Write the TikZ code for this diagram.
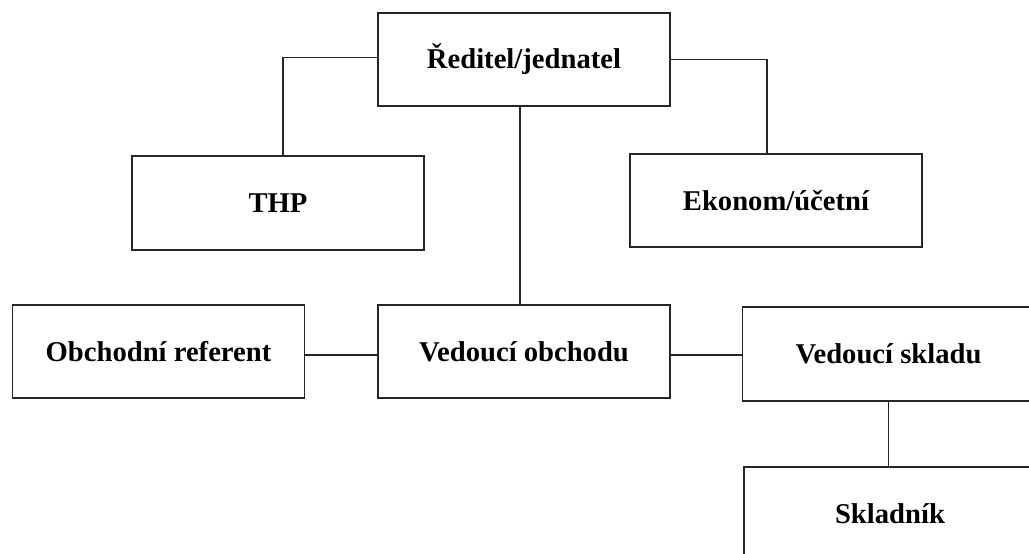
\documentclass[tikz,border=0pt]{standalone}
\usepackage{fontspec}
\setmainfont{Liberation Serif}
\begin{document}
\begin{tikzpicture}[x=0.02cm, y=-0.02cm,
    orgbox/.style={draw=black!85, line width=1.1pt, fill=white, inner sep=0pt,
      minimum width=5.84cm, minimum height=1.87cm,
      font=\fontsize{16.3}{19}\selectfont\bfseries},
    link/.style={draw=black!85, line width=1.1pt}]
          \useasboundingbox (0,0) rectangle (1029,554);
          \clip (0,0) rectangle (1029,554);
          \node[orgbox] (reditel) at (524,59.5){Ředitel/jednatel};
          \node[orgbox] (thp) at (278,203){THP};
          \node[orgbox] (ekonom) at (776,200.5){Ekonom/účetní};
          \draw[link]([yshift=0.04cm]reditel.west) -| ([xshift=0.1cm]thp.north);
          \draw[link](reditel.east) -| ([xshift=-0.18cm]ekonom.north);
          \node[orgbox] (obchref) at (158.5,351.5){Obchodní referent};
          \node[orgbox] (vedobch) at (524,351.5){Vedoucí obchodu};
          \draw[link]([xshift=-0.08cm]reditel.south) -- ([xshift=-0.08cm]vedobch.north);
          \draw[link]([yshift=-0.07cm]obchref.east) -- ([yshift=-0.07cm]vedobch.west);
          \node[orgbox] (vedskl) at (888.5,354){Vedoucí skladu};
          \node[orgbox] (skladnik) at (890,514){Skladník};
          \draw[link]([yshift=-0.07cm]vedobch.east) -- ([yshift=-0.07cm]vedobch.east -| vedskl.west);
          \draw[link](vedskl.south) -- (skladnik.north -| vedskl.south);
        \end{tikzpicture}
\end{document}
